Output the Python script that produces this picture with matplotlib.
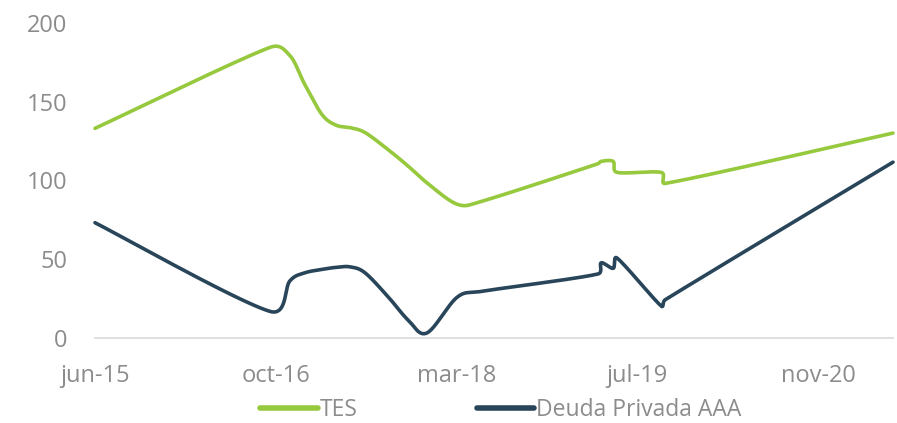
import numpy as np
import pandas as pd
import matplotlib
matplotlib.use("Agg")
import matplotlib.pyplot as plt
import matplotlib.dates as mdates

# ---- data ----
dates = ["2015-06-08", "2016-10-04", "2016-11-28", "2017-01-08", "2017-02-25",
         "2017-04-05", "2017-05-14", "2017-06-24", "2017-08-27", "2017-10-21",
         "2017-12-12", "2018-03-05", "2018-05-08",
         "2019-03-30", "2019-04-08", "2019-05-11", "2019-05-22",
         "2019-09-21", "2019-10-02", "2021-06-23"]
tes = [133, 184.5, 179.3, 161, 141.7,
       135, 133.4, 130.3, 119.4, 109,
       98.4, 84.8, 86.3,
       110.5, 112, 112, 105,
       105, 98, 130]
deuda = [73, 16.6, 36, 41.1, 43.3,
         44.6, 44.9, 41.1, 25.8, 11.1,
         2.9, 25.5, 29.2,
         40.4, 47.5, 44, 50.5,
         20, 24, 111.5]
series_names = ["TES", "Deuda Privada AAA"]
tick_dates = ["2015-06-08", "2016-10-20", "2018-03-04", "2019-07-17", "2020-11-28"]
tick_labels = ["jun-15", "oct-16", "mar-18", "jul-19", "nov-20"]
yticks = [0, 50, 100, 150, 200]

GREEN = "#96C93D"
DARK = "#28455A"
GRAY = "#8C8C8C"

plt.rcParams['font.family'] = ['Open Sans', 'DejaVu Sans']

def excel_smooth(x, y, n=80):
    P = np.column_stack([np.asarray(x, float), np.asarray(y, float)])
    m = len(P)
    out = []
    for i in range(m - 1):
        p0 = P[i - 1] if i > 0 else P[i]
        p1 = P[i]
        p2 = P[i + 1]
        p3 = P[i + 2] if i + 2 < m else P[i + 1]
        seglen = np.hypot(*(p2 - p1))
        a1 = (p2 - p0) / 6.0
        a2 = (p3 - p1) / 6.0
        l1 = np.hypot(*a1); l2 = np.hypot(*a2)
        lim = seglen / 2.0
        if l1 > lim and l1 > 0:
            a1 = a1 * lim / l1
        if l2 > lim and l2 > 0:
            a2 = a2 * lim / l2
        c1 = p1 + a1
        c2 = p2 - a2
        t = np.linspace(0, 1, n)[:, None]
        seg = ((1 - t) ** 3) * p1 + 3 * ((1 - t) ** 2) * t * c1 + 3 * (1 - t) * t ** 2 * c2 + t ** 3 * p2
        if i > 0:
            seg = seg[1:]
        out.append(seg)
    out = np.vstack(out)
    return out[:, 0], out[:, 1]

fig = plt.figure(figsize=(8.97, 4.23), dpi=100)
ax = fig.add_axes([95 / 897, 85.5 / 423, (893 - 95) / 897, (337.5 - 23) / 423])

xd = mdates.date2num(pd.to_datetime(dates))
# smoothing computed in pixel-proportional space
XS, YS = 2.766, 1.0 / 1.57
sx = (xd - xd[0]) / XS
for vals, col, name in [(tes, GREEN, series_names[0]), (deuda, DARK, series_names[1])]:
    px, py = excel_smooth(sx, np.asarray(vals) / YS)
    ax.plot(px * XS + xd[0], py * YS, color=col, lw=2.6, solid_capstyle='round',
            solid_joinstyle='round', label=name, clip_on=False)

ax.set_xlim(xd[0], xd[-1])
ax.set_ylim(0, 200)
ax.set_yticks(yticks)
ax.set_yticklabels([str(v) for v in yticks])
ax.set_xticks(mdates.date2num(pd.to_datetime(tick_dates)))
ax.set_xticklabels(tick_labels)
for s in ["top", "right", "left"]:
    ax.spines[s].set_visible(False)
ax.spines["bottom"].set_color("#D9D9D9")
ax.spines["bottom"].set_linewidth(1.2)
ax.tick_params(axis="both", length=0, labelsize=17, colors=GRAY)
ax.tick_params(axis="y", pad=20)
ax.tick_params(axis="x", pad=19)

leg = fig.legend(loc="center", bbox_to_anchor=(501 / 897, 13 / 423), ncol=2, frameon=False,
                 fontsize=16.5, handlelength=2.5, handletextpad=0.1, columnspacing=5.2,
                 borderpad=0.1)
for t in leg.get_texts():
    t.set_color(GRAY)
for h in leg.get_lines():
    h.set_linewidth(4)

fig.savefig("out.png", dpi=100)
